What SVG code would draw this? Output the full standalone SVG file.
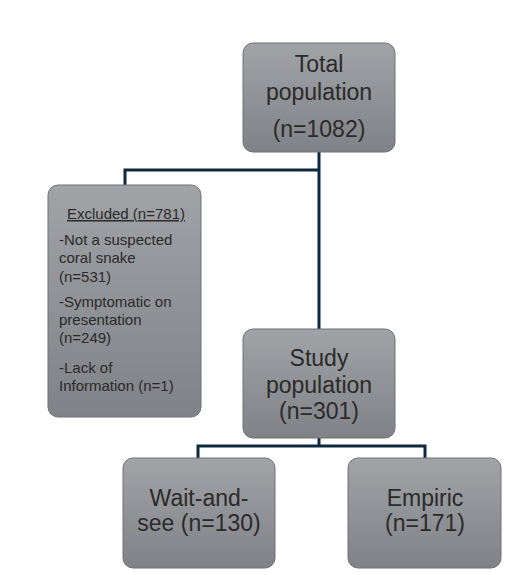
<svg xmlns="http://www.w3.org/2000/svg" width="532" height="575" viewBox="0 0 532 575">
<defs>
<linearGradient id="g" x1="0" y1="0" x2="0" y2="1">
<stop offset="0" stop-color="#a1a3a7"/>
<stop offset="1" stop-color="#808287"/>
</linearGradient>
<style>
.box{fill:url(#g);stroke:#6f7176;stroke-width:1}
.big{font-family:"Liberation Sans",Arial,sans-serif;font-size:23px;fill:#2a2a2a;text-anchor:middle}
.sm{font-family:"Liberation Sans",Arial,sans-serif;font-size:15px;fill:#2a2a2a}
.ln{fill:none;stroke:#0e2841;stroke-width:3}
</style>
</defs>
<rect width="532" height="575" fill="#ffffff"/>
<g id="connectors">
<path class="ln" d="M319 152 V330 M319 170 H125 V185"/>
<path class="ln" d="M319 438 V446 M198 458 V446 H425 V458"/>
</g>
<g id="total">
<rect class="box" x="243" y="43" width="152" height="109" rx="10"/>
<text class="big" x="319" y="72">Total</text>
<text class="big" x="319" y="100">population</text>
<text class="big" x="319" y="137">(n=1082)</text>
</g>
<g id="excluded">
<rect class="box" x="48" y="185" width="153" height="232" rx="10"/>
<text class="sm" x="126" y="219" text-anchor="middle" text-decoration="underline">Excluded (n=781)</text>
<text class="sm" x="59" y="245">-Not a suspected</text>
<text class="sm" x="59" y="263">coral snake</text>
<text class="sm" x="59" y="282">(n=531)</text>
<text class="sm" x="59" y="307">-Symptomatic on</text>
<text class="sm" x="59" y="325">presentation</text>
<text class="sm" x="59" y="343">(n=249)</text>
<text class="sm" x="59" y="373">-Lack of</text>
<text class="sm" x="59" y="391">Information (n=1)</text>
</g>
<g id="study">
<rect class="box" x="243" y="329" width="152" height="109" rx="10"/>
<text class="big" x="319" y="366">Study</text>
<text class="big" x="319" y="393">population</text>
<text class="big" x="319" y="419">(n=301)</text>
</g>
<g id="waitandsee">
<rect class="box" x="123" y="458" width="152" height="110" rx="10"/>
<text class="big" x="199" y="506">Wait-and-</text>
<text class="big" x="199" y="531">see (n=130)</text>
</g>
<g id="empiric">
<rect class="box" x="348" y="458" width="153" height="110" rx="10"/>
<text class="big" x="425" y="506">Empiric</text>
<text class="big" x="425" y="531">(n=171)</text>
</g>
</svg>
